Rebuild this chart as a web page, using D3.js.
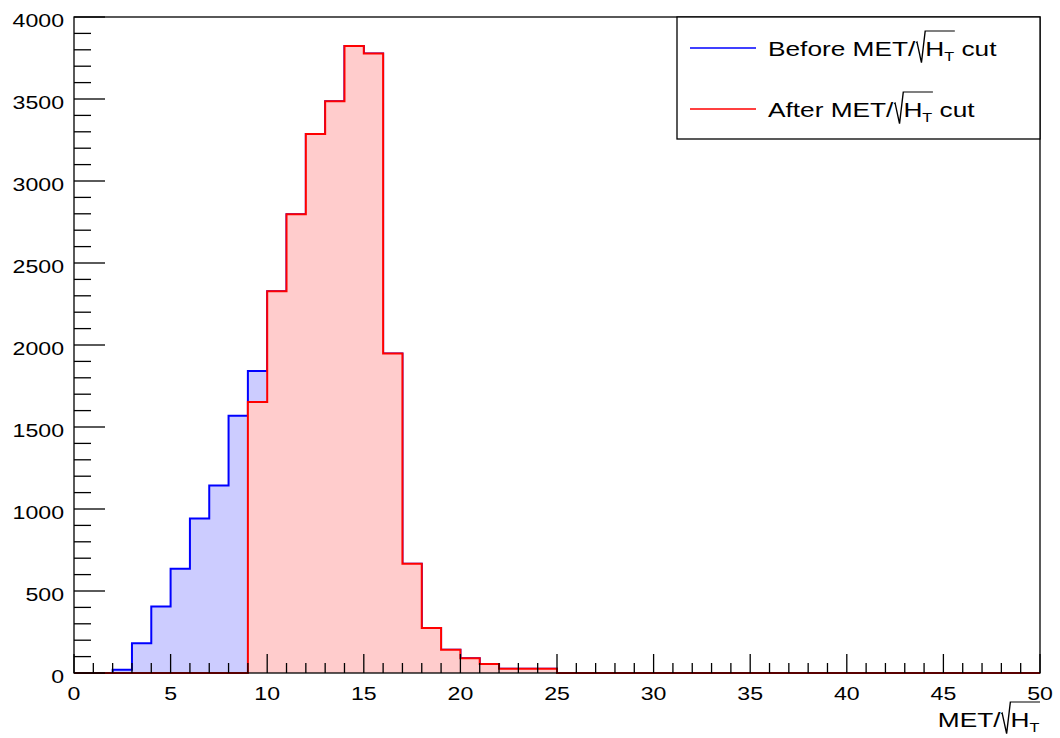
<!DOCTYPE html>
<html><head><meta charset="utf-8">
<script src="https://cdn.jsdelivr.net/npm/d3@7"></script>
<style>body{margin:0;background:#fff}svg{display:block}text{font-family:"Liberation Sans",Arial,sans-serif}</style>
</head><body><svg id="c" width="1060" height="738"></svg>
<script>
const binEdges = d3.range(0, 51);
const beforeCut = [0,0,20,181,405,635,942,1144,1568,1842,2327,2797,3286,3487,3823,3778,1948,666,275,142,90,55,26,26,26,0,0,0,0,0,0,0,0,0,0,0,0,0,0,0,0,0,0,0,0,0,0,0,0,0];
const afterCut  = [0,0,0,0,0,0,0,0,0,1653,2327,2797,3286,3487,3823,3778,1948,666,275,142,90,55,26,26,26,0,0,0,0,0,0,0,0,0,0,0,0,0,0,0,0,0,0,0,0,0,0,0,0,0];
const xTicks = [0,5,10,15,20,25,30,35,40,45,50];
const yTicks = [0,500,1000,1500,2000,2500,3000,3500,4000];
const legendLabels = ["Before MET/", "After MET/"];
const axisTitlePrefix = "MET/";

const svg = d3.select("#c");
const L = 74, R = 1040, T = 17, B = 673;
const SX = 1.25; // horizontal stretch of text in the reference
const x = d3.scaleLinear().domain([0,50]).range([L,R]);
const y = d3.scaleLinear().domain([0,4000]).range([B,T]);

function stepPath(vals){
  const p = d3.path();
  p.moveTo(x(binEdges[0]), y(0));
  vals.forEach((v,i)=>{ p.lineTo(x(binEdges[i]), y(v)); p.lineTo(x(binEdges[i+1]), y(v)); });
  p.lineTo(x(binEdges[vals.length]), y(0));
  return p.toString();
}
function fillPath(vals){ return stepPath(vals) + "Z"; }

svg.append("path").attr("d", fillPath(beforeCut)).attr("fill","#ccccff").attr("stroke","none");
svg.append("path").attr("d", stepPath(beforeCut)).attr("fill","none").attr("stroke","#0000ff").attr("stroke-width",2);
svg.append("path").attr("d", fillPath(afterCut)).attr("fill","#ffcccc").attr("stroke","none");
svg.append("path").attr("d", stepPath(afterCut)).attr("fill","none").attr("stroke","#ff0000").attr("stroke-width",2);

// frame
svg.append("rect").attr("x",L).attr("y",T).attr("width",R-L).attr("height",B-T).attr("fill","none").attr("stroke","#000").attr("stroke-width",1.3);

function stext(parent, px, py, size, anchor){
  const g = parent.append("g").attr("transform",`translate(${px},${py}) scale(${SX},1)`);
  const t = g.append("text").attr("x",0).attr("y",0).attr("font-size",size).attr("text-anchor",anchor||"start").attr("fill","#000");
  return {g, t};
}

// x axis ticks (upward)
const gx = svg.append("g");
d3.range(0,51).forEach(v=>{
  const major = v%5===0;
  gx.append("line").attr("x1",x(v)).attr("x2",x(v)).attr("y1",B).attr("y2",B-(major?19:10)).attr("stroke","#000").attr("stroke-width",1.3);
});
xTicks.forEach(v=>{ stext(gx, x(v), 700, 18.5, "middle").t.text(v); });
// y ticks (rightward)
const gy = svg.append("g");
d3.range(0,4001,100).forEach(v=>{
  const major = v%500===0;
  gy.append("line").attr("x1",L).attr("x2",L+(major?31:17)).attr("y1",y(v)).attr("y2",y(v)).attr("stroke","#000").attr("stroke-width",1.3);
});
yTicks.forEach(v=>{ stext(gy, 64, y(v)+10, 18.5, "end").t.text(v); });

// label with ROOT-style radical over H_T
function sqrtLabel(parent, px, py, prefix, suffix, anchor){
  const {g, t} = stext(parent, 0, 0, 21, "start");
  t.append("tspan").text(prefix);
  t.append("tspan").attr("dx",8).text("H");
  t.append("tspan").attr("font-size",13).attr("dy",5).text("T");
  if(suffix) t.append("tspan").attr("dy",-5).text(suffix);
  const node = t.node();
  const n0 = prefix.length;
  const x0 = node.getEndPositionOfChar(n0-1).x + 0.5;
  const eT = node.getEndPositionOfChar(n0+1).x + 0.5;
  g.append("path").attr("d",`M${x0},-13.4 L${x0+0.8},-14 L${x0+4.4},6.6 L${x0+7.4},-25 L${eT},-25`)
    .attr("fill","none").attr("stroke","#000").attr("stroke-width",1.1);
  const w = Math.max(eT, node.getEndPositionOfChar(node.getNumberOfChars()-1).x);
  const startX = anchor==="end" ? px - w*SX : px;
  g.attr("transform",`translate(${startX},${py}) scale(${SX},1)`);
}
sqrtLabel(svg, 1040, 727, axisTitlePrefix, null, "end");

// legend
const lg = svg.append("g");
lg.append("rect").attr("x",677).attr("y",T).attr("width",R-677).attr("height",122).attr("fill","#fff").attr("stroke","#000").attr("stroke-width",1.3);
const legendColors = ["#0000ff","#ff0000"];
[48,109].forEach((ly,i)=>{
  lg.append("line").attr("x1",690).attr("x2",756).attr("y1",ly).attr("y2",ly).attr("stroke",legendColors[i]).attr("stroke-width",1.5);
  sqrtLabel(lg, 768, ly+8, legendLabels[i], " cut");
});
</script></body></html>
